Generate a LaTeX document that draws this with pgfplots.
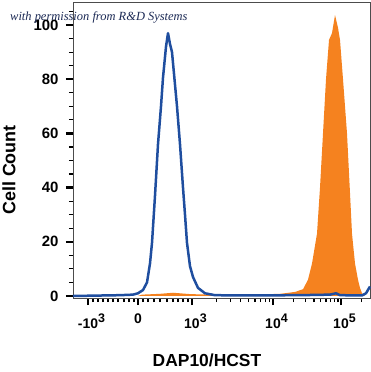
\documentclass[border=0pt]{standalone}
\usepackage{pgfplots}
\pgfplotsset{compat=1.18}
\usepackage{fontspec}
\setmainfont{Liberation Sans}
\newfontfamily\wmfont{Liberation Serif}
\definecolor{flowblue}{HTML}{1F4E9F}
\definecolor{floworange}{HTML}{F5821F}
\definecolor{wmcol}{HTML}{1C2A55}
\newcommand{\tp}[2]{\textbf{#1}\rlap{\raisebox{6pt}{\bfseries\fontsize{12.5}{12.5}\selectfont #2}}}
\begin{document}
\begin{tikzpicture}
\begin{axis}[
  at={(0,0)}, anchor=south west,
  scale only axis,
  width=297bp, height=296bp,
  xmin=73, xmax=370,
  ymin=-0.74, ymax=108.5,
  axis line style={draw=black!70, line width=0.8pt},
  tick align=outside,
  /pgf/number format/assume math mode=true,
  xtick pos=bottom, ytick pos=left,
  xtick={88,138,192,273,341},
  xticklabels={\tp{-10}{3},\textbf{0},\tp{10}{3},\tp{10}{4},\tp{10}{5}},
  minor xtick={93,98,103,108,113,118,124,129,134,143,148,154,160,167,173,178,183,188,216.4,230.6,240.8,248.6,255,260.5,265.1,269.3,293.5,305.4,313.9,320.5,325.9,330.5,334.4,337.9,361.5},
  ytick={0,20,40,60,80,100},
  yticklabels={\textbf{0},\textbf{20},\textbf{40},\textbf{60},\textbf{80},\textbf{100}},
  minor ytick={5,10,15,25,30,35,45,50,55,65,70,75,85,90,95,105},
  major tick length=7bp, minor tick length=4bp,
  every major tick/.append style={line width=2.5pt, black},
  every minor tick/.append style={line width=1.2pt, black},
  xticklabel style={font=\bfseries\fontsize{14}{14}\selectfont, yshift=-5bp},
  yticklabel style={font=\bfseries\fontsize{15}{15}\selectfont, xshift=-4bp},
  clip=false,
]
\addplot[fill=floworange, draw=none] coordinates {
(138,0) (142,0.5) (160,0.8) (173,1.2) (190,0.7) (210,0.5) (250,0.5) (280,0.8) (295,1.5) (303,2.5) (308,6) (312,12) (317,23) (320,40) (323,60) (326,80) (329,94.5) (332,97) (335,103.7) (338,99) (340,94.5) (343,80) (347,60) (350,38) (352,23) (355,12) (358,6) (360,3) (362,1) (365,0)
} \closedcycle;
\addplot[flowblue, line width=2.5bp, line join=round] coordinates {
(73,0) (120,0.3) (133,0.5) (138,1) (143,2.2) (147,5) (150,12) (152,19.6) (155,37) (158,56) (161,70) (163,80.6) (166,92) (168,97) (170,93) (172,90) (174,82) (177,70) (180,56) (183,40) (185,30) (187,19.6) (190,11) (193,7) (198,3) (205,1) (215,0.3) (240,0.2) (300,0.3) (330,0.5) (336,1) (340,0.3) (362,0.2) (366,1) (370,3.5)
};
\end{axis}
\node[font=\bfseries\fontsize{17.5}{18}\selectfont] at (134bp,-62bp) {DAP10/HCST};
\node[font=\bfseries\fontsize{18}{18}\selectfont, rotate=90] at (-64bp,128bp) {Cell Count};
\node[font=\wmfont\itshape\fontsize{12.5}{13}\selectfont, color=wmcol, anchor=west, inner sep=0pt] at (-63bp,281bp) {with permission from R\&D Systems};
\pgfresetboundingbox
\useasboundingbox (-73bp,-74bp) rectangle (298bp,298bp);
\end{tikzpicture}
\end{document}
